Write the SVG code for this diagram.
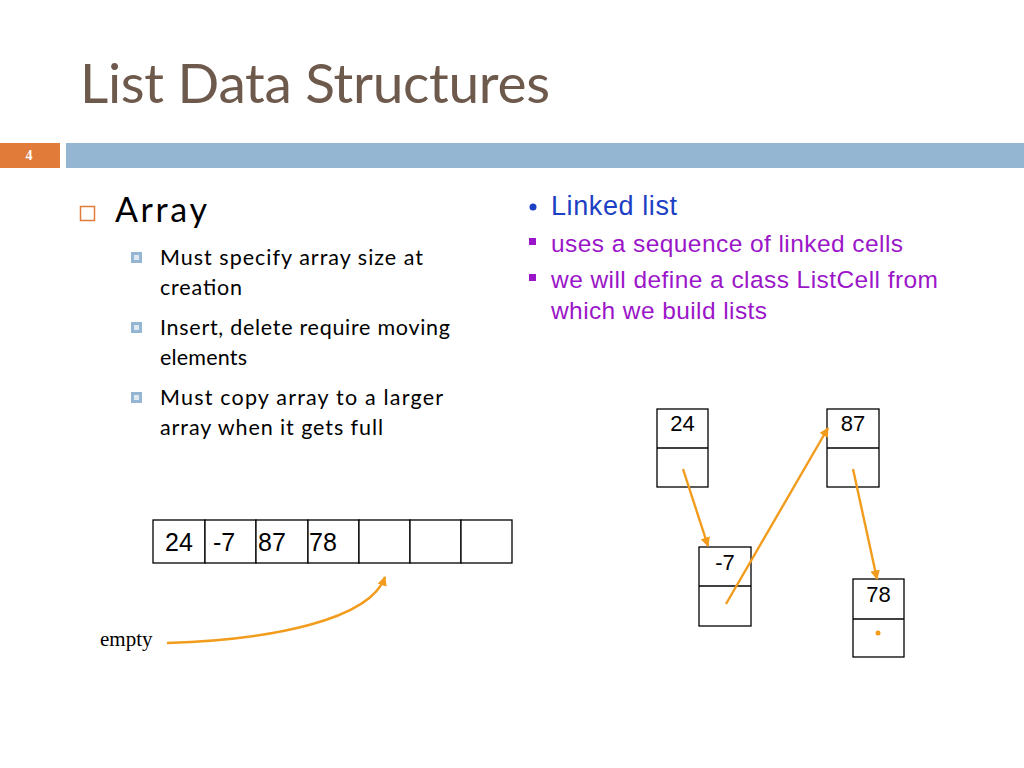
<svg xmlns="http://www.w3.org/2000/svg" width="1024" height="768" viewBox="0 0 1024 768">
<defs>
<style>
.title{font-family:"Lato","Open Sans",sans-serif;font-size:55px;fill:#6e5a4c}
.gill{font-family:"Lato","Open Sans",sans-serif;fill:#000}
.ar{font-family:"Liberation Sans",Arial,sans-serif;fill:#000}
.cell{fill:#fff;stroke:#000;stroke-width:1.3}
.conn{stroke:#f29c1d;stroke-width:2.4;fill:none}
.blue{font-family:"Liberation Sans",Arial,sans-serif;font-size:27px;fill:#1c3fc4}
.purp{font-family:"Liberation Sans",Arial,sans-serif;font-size:24.5px;fill:#9b16c8}
</style>
<marker id="ah" viewBox="0 0 10 10" refX="9" refY="5" markerWidth="4" markerHeight="4" orient="auto">
<path d="M0,0 L10,5 L0,10 z" fill="#f29c1d"/>
</marker>
</defs>
<rect width="1024" height="768" fill="#fff"/>
<text class="title" x="80" y="103" textLength="470">List Data Structures</text>
<rect x="0" y="143" width="60" height="25" fill="#e07b3a"/>
<rect x="66" y="143" width="958" height="25" fill="#94b6d2"/>
<text x="29" y="160" font-family="Liberation Serif,serif" font-weight="bold" font-size="14" fill="#fff" text-anchor="middle">4</text>

<rect x="80.5" y="206.5" width="14" height="14" fill="none" stroke="#e07b3a" stroke-width="1.5"/>
<text class="gill" x="115" y="222" font-size="34" textLength="92">Array</text>
<g class="gill" font-size="21.5">
<rect x="131" y="252" width="11" height="11" fill="#94b6d2"/><rect x="134" y="255" width="5" height="5" fill="#dde8f1"/>
<text x="160" y="265" textLength="263">Must specify array size at</text>
<text x="160" y="295" textLength="82">creation</text>
<rect x="131" y="322" width="11" height="11" fill="#94b6d2"/><rect x="134" y="325" width="5" height="5" fill="#dde8f1"/>
<text x="160" y="335" textLength="290">Insert, delete require moving</text>
<text x="160" y="365" textLength="87">elements</text>
<rect x="131" y="392" width="11" height="11" fill="#94b6d2"/><rect x="134" y="395" width="5" height="5" fill="#dde8f1"/>
<text x="160" y="405" textLength="283">Must copy array to a larger</text>
<text x="160" y="435" textLength="223">array when it gets full</text>
</g>

<circle cx="533" cy="207" r="3.5" fill="#1c3fc4"/>
<text class="blue" x="551" y="215" textLength="126">Linked list</text>
<rect x="529" y="238" width="7" height="7" fill="#9b16c8"/>
<text class="purp" x="551" y="252" textLength="352">uses a sequence of linked cells</text>
<rect x="529" y="274" width="7" height="7" fill="#9b16c8"/>
<text class="purp" x="551" y="288" textLength="387">we will define a class ListCell from</text>
<text class="purp" x="551" y="319" textLength="216">which we build lists</text>

<g id="array">
<rect class="cell" x="153" y="520" width="52" height="43"/>
<rect class="cell" x="205" y="520" width="51" height="43"/>
<rect class="cell" x="256" y="520" width="52" height="43"/>
<rect class="cell" x="308" y="520" width="51" height="43"/>
<rect class="cell" x="359" y="520" width="51" height="43"/>
<rect class="cell" x="410" y="520" width="51" height="43"/>
<rect class="cell" x="461" y="520" width="51" height="43"/>
<g class="ar" font-size="25">
<text x="165" y="551">24</text>
<text x="213" y="551">-7</text>
<text x="258" y="551">87</text>
<text x="309" y="551">78</text>
</g>
</g>
<text id="empty" x="100" y="646" font-family="Liberation Serif,serif" font-size="21" fill="#000">empty</text>

<g id="n24">
<rect class="cell" x="657" y="409" width="51" height="78"/>
<line x1="657" y1="448" x2="708" y2="448" stroke="#000" stroke-width="1.3"/>
<text class="ar" x="682.5" y="431" font-size="22" text-anchor="middle">24</text>
</g>
<g id="nm7">
<rect class="cell" x="699" y="547" width="52" height="79"/>
<line x1="699" y1="586" x2="751" y2="586" stroke="#000" stroke-width="1.3"/>
<text class="ar" x="725" y="570" font-size="22" text-anchor="middle">-7</text>
</g>
<g id="n87">
<rect class="cell" x="827" y="409" width="52" height="78"/>
<line x1="827" y1="448" x2="879" y2="448" stroke="#000" stroke-width="1.3"/>
<text class="ar" x="853" y="431" font-size="22" text-anchor="middle">87</text>
</g>
<g id="n78">
<rect class="cell" x="853" y="579" width="51" height="78"/>
<line x1="853" y1="619" x2="904" y2="619" stroke="#000" stroke-width="1.3"/>
<text class="ar" x="878.5" y="602" font-size="22" text-anchor="middle">78</text>
<circle cx="878" cy="633" r="2.5" fill="#f29c1d"/>
</g>

<g id="connectors">
<path class="conn" d="M167,643 C270,640 370,620 385,577" marker-end="url(#ah)"/>
<line class="conn" x1="683" y1="469" x2="708" y2="546" marker-end="url(#ah)"/>
<line class="conn" x1="726" y1="604" x2="828" y2="428" marker-end="url(#ah)"/>
<line class="conn" x1="853" y1="469" x2="877" y2="579" marker-end="url(#ah)"/>
</g>
</svg>
